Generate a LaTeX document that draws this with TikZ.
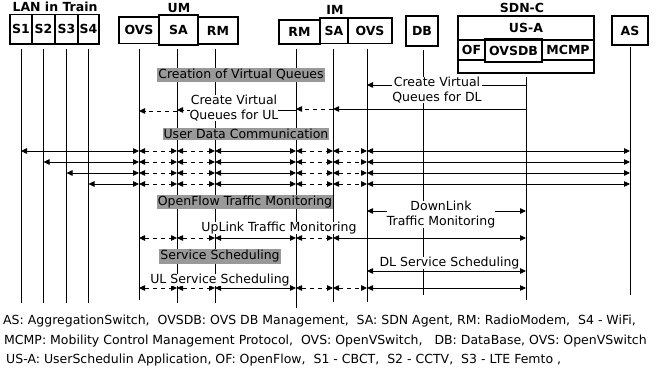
\documentclass[tikz,border=0pt]{standalone}
\usepackage{fontspec}
\setmainfont{DejaVu Sans}
\usetikzlibrary{arrows.meta}
\definecolor{phasegrey}{RGB}{153,153,153}

\begin{document}
\begin{tikzpicture}[x=1pt, y=-1pt,
        font=\fontsize{12.5}{15}\selectfont,
        >={Triangle[length=6pt, width=5.5pt]},
        box/.style={draw, line width=1.6pt, inner sep=0pt, font=\fontsize{12.5}{15}\selectfont\bfseries},
        grp/.style={anchor=base, inner sep=0pt, font=\fontsize{12.5}{15}\selectfont\bfseries},
        phase/.style={fill=phasegrey, inner sep=1pt},
        note/.style={fill=white, inner sep=0pt, align=center},
        life/.style={line width=0.9pt},
        wire/.style={line width=0.8pt},
        air/.style={line width=0.8pt, dash pattern=on 4pt off 4pt}]
    \useasboundingbox (0,0) rectangle (658,374);

    % group titles
    \node[grp] (gLAN) at (55,12) {LAN in Train};
    \node[grp] (gUM) at (179,13) {UM};
    \node[grp] (gIM) at (335,14.5) {IM};
    \node[grp] (gSDN) at (522,13) {SDN-C};

    % LAN in Train
    \node[box, minimum width=22, minimum height=29.5] (bS1) at (21,29.25) {S1};
    \node[box, minimum width=23, minimum height=29.5] (bS2) at (43.5,29.25) {S2};
    \node[box, minimum width=23, minimum height=29.5] (bS3) at (66.5,29.25) {S3};
    \node[box, minimum width=21, minimum height=29.5] (bS4) at (88.5,29.25) {S4};

    % UM
    \node[box, minimum width=40, minimum height=26.5] (bOVSu) at (139,30.25) {OVS};
    \node[box, minimum width=39, minimum height=30] (bSAu) at (178.5,30) {SA};
    \node[box, minimum width=40, minimum height=27] (bRMu) at (218,30.5) {RM};

    % IM
    \node[box, minimum width=41, minimum height=24] (bRMi) at (299.5,32) {RM};
    \node[box, minimum width=28, minimum height=25.5] (bSAi) at (334,30.75) {SA};
    \node[box, minimum width=44, minimum height=25.5] (bOVSi) at (370,30.75) {OVS};

    \node[box, minimum width=32, minimum height=30] (bDB) at (422,31) {DB};

    % SDN-C
    \node[box, minimum width=136, minimum height=57] (bSDN) at (526,44.5) {};
    \node[box, minimum width=136, minimum height=24] (bUSA) at (526,28) {US-A};
    \node[box, minimum width=27, minimum height=20] (bOF) at (471.5,50) {OF};
    \node[box, minimum width=57, minimum height=23] (bOVSDB) at (513.5,50.5) {OVSDB};
    \node[box, minimum width=52, minimum height=20] (bMCMP) at (568,50) {MCMP};

    \node[box, minimum width=36, minimum height=29] (bAS) at (630,30.5) {AS};

    % lifelines
    \coordinate (lS1) at (21,49);
    \coordinate (lS2) at (43.5,49);
    \coordinate (lS3) at (66.5,49);
    \coordinate (lS4) at (88.5,49);
    \coordinate (lOVSu) at (139,49);
    \coordinate (lSAu) at (177,49);
    \coordinate (lRMu) at (215,49);
    \coordinate (lRMi) at (296,49);
    \coordinate (lSAi) at (333,49);
    \coordinate (lOVSi) at (367,49);
    \coordinate (lDB) at (423,50);
    \coordinate (lSDN) at (526,77);
    \coordinate (lAS) at (630,47);

    \draw[life] (lS1) -- ++(0,254);
    \draw[life] (lS2) -- ++(0,254);
    \draw[life] (lS3) -- ++(0,254);
    \draw[life] (lS4) -- ++(0,254);
    \draw[life] (lOVSu) -- ++(0,251);
    \draw[life] (lSAu) -- ++(0,254);
    \draw[life] (lRMu) -- ++(0,254);
    \draw[life] (lRMi) -- ++(0,259);
    \draw[life] (lSAi) -- ++(0,253);
    \draw[life] (lOVSi) -- ++(0,253);
    \draw[life] (lDB) -- ++(0,245);
    \draw[life] (lSDN) -- ++(0,223);
    \draw[life] (lAS) -- ++(0,248);

    % creation of virtual queues
    \draw[wire, ->] (lSDN |- 0,85) -- (lOVSi |- 0,85);
    \draw[wire, ->] (lSDN |- 0,109) -- (lSAi |- 0,109);
    \draw[air, ->] (lSAi |- 0,109) -- (lRMi |- 0,109);
    \draw[wire, ->] (lRMi |- 0,110) -- (lRMu |- 0,110);
    \draw[air, ->] (lRMu |- 0,110) -- (lSAu |- 0,110);
    \draw[air, ->] (lSAu |- 0,111) -- (lOVSu |- 0,111);

    \node[phase] (pCreate) at (241,75) {Creation of Virtual Queues};
    \node[note, anchor=north] (nDL) at (437,77) {Create Virtual\\Queues for DL};
    \node[note, anchor=north] (nUL) at (234,95) {Create Virtual\\Queues for UL};

    % user data communication
    \node[phase] (pData) at (246,134) {User Data Communication};
    \foreach \s/\y in {lS1/151, lS2/162, lS3/173, lS4/184} {
        \draw[wire, <->] (\s |- 0,\y) -- (lOVSu |- 0,\y);
        \draw[air, <->] (lOVSu |- 0,\y) -- (lSAu |- 0,\y);
        \draw[air, <->] (lSAu |- 0,\y) -- (lRMu |- 0,\y);
        \draw[wire, <->] (lRMu |- 0,\y) -- (lRMi |- 0,\y);
        \draw[air, <->] (lRMi |- 0,\y) -- (lSAi |- 0,\y);
        \draw[air, <->] (lSAi |- 0,\y) -- (lOVSi |- 0,\y);
        \draw[wire, <->] (lOVSi |- 0,\y) -- (lAS |- 0,\y);
    }

    % openflow traffic monitoring
    \node[phase] (pMon) at (245,202) {OpenFlow Traffic Monitoring};
    \draw[wire, <->] (lOVSi |- 0,211) -- (lSDN |- 0,211);
    \node[note, anchor=north] (nDLmon) at (441,200.5) {DownLink\\Traffic Monitoring};

    \draw[air, <->] (lOVSu |- 0,238) -- (lSAu |- 0,238);
    \draw[air, <->] (lSAu |- 0,238) -- (lRMu |- 0,238);
    \draw[wire, <->] (lRMu |- 0,238) -- (lRMi |- 0,238);
    \draw[air, <->] (lRMi |- 0,238) -- (lSAi |- 0,238);
    \draw[wire, <->] (lSAi |- 0,238) -- (lSDN |- 0,238);
    \node[note, anchor=base] (nULmon) at (279,231) {UpLink Traffic Monitoring};

    % service scheduling
    \node[phase] (pSched) at (220,256.5) {Service Scheduling};
    \draw[wire, <->] (lOVSi |- 0,271) -- (lSDN |- 0,271);
    \node[note, anchor=base] (nDLsch) at (449.5,266) {DL Service Scheduling};

    \draw[air, <->] (lOVSu |- 0,288) -- (lSAu |- 0,288);
    \draw[air, <->] (lSAu |- 0,288) -- (lRMu |- 0,288);
    \draw[wire, <->] (lRMu |- 0,288) -- (lRMi |- 0,288);
    \draw[air, <->] (lRMi |- 0,288) -- (lSAi |- 0,288);
    \draw[air, <->] (lSAi |- 0,288) -- (lOVSi |- 0,288);
    \draw[wire, <->] (lOVSi |- 0,288) -- (lSDN |- 0,288);
    \node[note, anchor=base] (nULsch) at (220,283) {UL Service Scheduling};

    % legend
    \node[anchor=base west, inner sep=0pt] (leg1) at (3,324.5) {AS: AggregationSwitch,\ \ OVSDB: OVS DB Management,\ \ SA: SDN Agent,\ RM: RadioModem,\ \ S4 - WiFi,};
    \node[anchor=base west, inner sep=0pt] (leg2) at (4,344) {MCMP: Mobility Control Management Protocol,\ \ OVS: OpenVSwitch,\ \ \ DB: DataBase,\ OVS: OpenVSwitch};
    \node[anchor=base west, inner sep=0pt] (leg3) at (6,363.5) {US-A: UserSchedulin Application,\ OF: OpenFlow,\ \ S1 - CBCT,\ \ S2 - CCTV,\ \ S3 - LTE Femto ,};
\end{tikzpicture}
\end{document}
